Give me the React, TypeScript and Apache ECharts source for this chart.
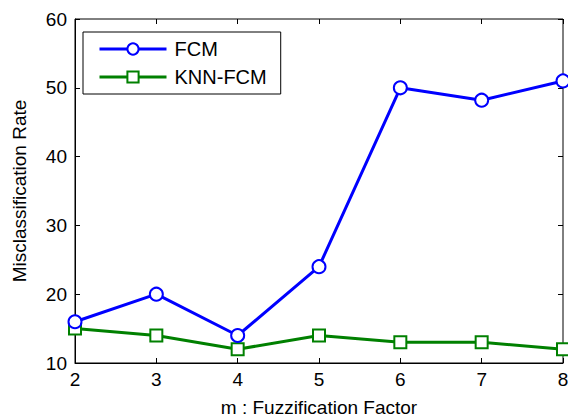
import React, { useEffect, useRef } from "react";
import * as echarts from "echarts";

const mValues = [2, 3, 4, 5, 6, 7, 8];
const fcmRates = [16, 20, 14, 24, 50, 48.2, 51];
const knnFcmRates = [15, 14, 12, 14, 13, 13, 12];
const seriesNames = ["FCM", "KNN-FCM"];
const xAxisTitle = "m : Fuzzification Factor";
const yAxisTitle = "Misclassification Rate";

const FONT = "Liberation Sans, Arial, sans-serif";

export default function App() {
  const ref = useRef<HTMLDivElement>(null);
  useEffect(() => {
    if (!ref.current) return;
    const chart = echarts.init(ref.current, undefined, { renderer: "svg" });
    const tickStyle = { inside: true, length: 5, lineStyle: { color: "#000", width: 1 } };
    chart.setOption({
      animation: false,
      backgroundColor: "#fff",
      textStyle: { fontFamily: FONT },
      grid: {
        left: 75,
        right: 5,
        top: 19,
        bottom: 55,
        containLabel: false,
        outerBoundsMode: "none",
        show: true,
        borderColor: "#000",
        borderWidth: 1,
      },
      legend: {
        data: seriesNames,
        orient: "vertical",
        left: 83,
        top: 32,
        backgroundColor: "#fff",
        borderColor: "#000",
        borderWidth: 1,
        borderRadius: 0,
        padding: [7, 14, 7, 15],
        itemWidth: 67,
        itemHeight: 14,
        itemGap: 8,
        lineStyle: { width: 3 },
        itemStyle: { borderWidth: 2.5 },
        textStyle: { fontSize: 20, color: "#000", fontFamily: FONT, padding: [0, 0, 0, 3] },
      },
      xAxis: [
        {
          type: "value",
          min: 2,
          max: 8,
          interval: 1,
          name: xAxisTitle,
          nameLocation: "middle",
          nameGap: 35,
          nameTextStyle: { fontSize: 19, color: "#000", fontFamily: FONT },
          axisLine: { show: true, lineStyle: { color: "#000" } },
          axisTick: tickStyle,
          axisLabel: { fontSize: 19, color: "#000", margin: 7, fontFamily: FONT },
          splitLine: { show: false },
        },
        {
          type: "value",
          position: "top",
          min: 2,
          max: 8,
          interval: 1,
          axisLine: { show: false },
          axisTick: tickStyle,
          axisLabel: { show: false },
          splitLine: { show: false },
        },
      ],
      yAxis: [
        {
          type: "value",
          min: 10,
          max: 60,
          interval: 10,
          name: yAxisTitle,
          nameLocation: "middle",
          nameGap: 46,
          nameTextStyle: { fontSize: 19, color: "#000", fontFamily: FONT },
          axisLine: { show: true, lineStyle: { color: "#000" } },
          axisTick: tickStyle,
          axisLabel: { fontSize: 19, color: "#000", margin: 8, fontFamily: FONT },
          splitLine: { show: false },
        },
        {
          type: "value",
          position: "right",
          min: 10,
          max: 60,
          interval: 10,
          axisLine: { show: false },
          axisTick: tickStyle,
          axisLabel: { show: false },
          splitLine: { show: false },
        },
      ],
      series: [
        {
          name: seriesNames[0],
          type: "line",
          data: mValues.map((m, i) => [m, fcmRates[i]]),
          symbol: "emptyCircle",
          symbolSize: 13,
          showAllSymbol: true,
          color: "#0000ff",
          lineStyle: { color: "#0000ff", width: 3 },
          itemStyle: { color: "#0000ff", borderColor: "#0000ff", borderWidth: 2.5 },
          clip: false,
          z: 3,
        },
        {
          name: seriesNames[1],
          type: "line",
          data: mValues.map((m, i) => [m, knnFcmRates[i]]),
          symbol: "emptyRect",
          symbolSize: 12,
          showAllSymbol: true,
          color: "#008000",
          lineStyle: { color: "#008000", width: 3 },
          itemStyle: { color: "#008000", borderColor: "#008000", borderWidth: 2.5 },
          clip: false,
          z: 2,
        },
      ],
    });
    return () => chart.dispose();
  }, []);
  return <div ref={ref} style={{ width: 568, height: 418, position: "absolute", left: 0, top: 0 }} />;
}
